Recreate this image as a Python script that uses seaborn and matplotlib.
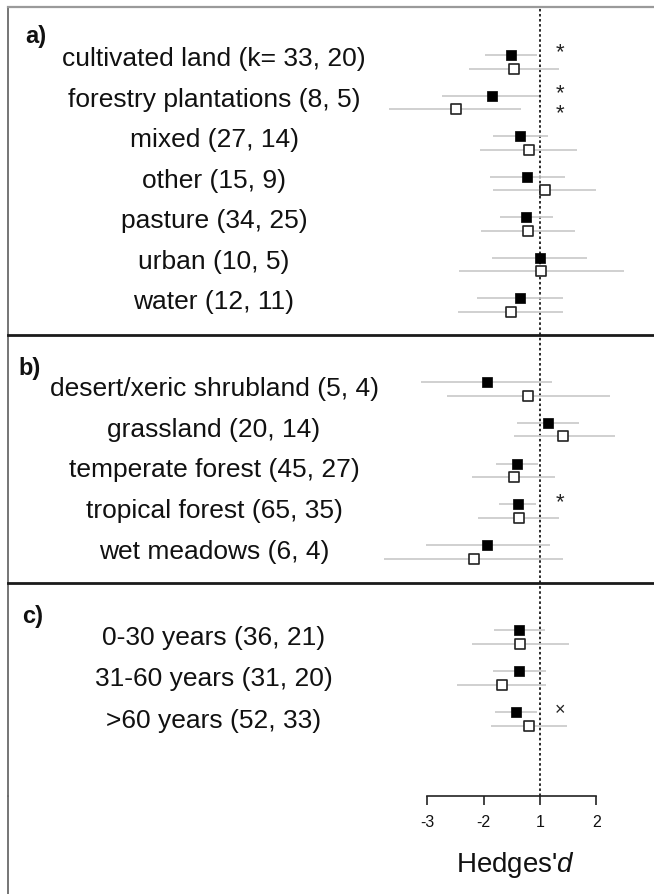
import matplotlib
matplotlib.use("Agg")
import matplotlib.pyplot as plt
from matplotlib.lines import Line2D
import seaborn as sns
import pandas as pd

# ---------------- data (effect sizes in axis units; dotted reference line at 0) ----------------
labels_a = ["cultivated land (k= 33, 20)", "forestry plantations (8, 5)", "mixed (27, 14)",
            "other (15, 9)", "pasture (34, 25)", "urban (10, 5)", "water (12, 11)"]
filled_est_a = [-0.52, -0.86, -0.35, -0.23, -0.25, 0.00, -0.36]
filled_lo_a = [-0.97, -1.74, -0.83, -0.88, -0.71, -0.85, -1.12]
filled_hi_a = [-0.06, -0.01, 0.15, 0.44, 0.23, 0.84, 0.41]
open_est_a = [-0.47, -1.50, -0.20, 0.08, -0.21, 0.02, -0.52]
open_lo_a = [-1.26, -2.68, -1.06, -0.83, -1.04, -1.43, -1.46]
open_hi_a = [0.33, -0.33, 0.65, 0.99, 0.62, 1.49, 0.40]
sig_filled_a = ["*", "*", "", "", "", "", ""]
sig_open_a = ["", "*", "", "", "", "", ""]

labels_b = ["desert/xeric shrubland (5, 4)", "grassland (20, 14)", "temperate forest (45, 27)",
            "tropical forest (65, 35)", "wet meadows (6, 4)"]
filled_est_b = [-0.95, 0.15, -0.40, -0.39, -0.94]
filled_lo_b = [-2.11, -0.41, -0.78, -0.72, -2.03]
filled_hi_b = [0.21, 0.70, -0.03, -0.07, 0.17]
open_est_b = [-0.21, 0.40, -0.47, -0.38, -1.18]
open_lo_b = [-1.66, -0.46, -1.20, -1.10, -2.77]
open_hi_b = [1.24, 1.34, 0.27, 0.33, 0.41]
sig_filled_b = ["", "", "", "*", ""]
sig_open_b = ["", "", "", "", ""]

labels_c = ["0-30 years (36, 21)", "31-60 years (31, 20)", ">60 years (52, 33)"]
filled_est_c = [-0.37, -0.37, -0.43]
filled_lo_c = [-0.81, -0.83, -0.80]
filled_hi_c = [0.08, 0.11, -0.06]
open_est_c = [-0.35, -0.67, -0.20]
open_lo_c = [-1.21, -1.47, -0.87]
open_hi_c = [0.52, 0.11, 0.48]
sig_filled_c = ["", "", "×"]
sig_open_c = ["", "", ""]

panel_letters = ["a)", "b)", "c)"]
tick_positions = [-2, -1, 0, 1]
tick_labels = ["-3", "-2", "1", "2"]
xlabel_text = "Hedges'$\\mathit{d}$"

# ---------------- style ----------------
sns.set_theme(style="white")
plt.rcParams["font.family"] = ["Liberation Sans", "DejaVu Sans"]
plt.rcParams["mathtext.fontset"] = "custom"
plt.rcParams["mathtext.it"] = "Liberation Sans:italic"
plt.rcParams["mathtext.rm"] = "Liberation Sans"

W, H = 654, 894
fig = plt.figure(figsize=(W / 100, H / 100), dpi=100)
fig.patch.set_facecolor("white")

XL = (8 - 540) / 56.3
XR = (654 - 540) / 56.3
LEFT = 8 / W

# (top px, bottom px, first row px, row spacing px, label offset)
layout = [(7, 335, 55, 40.55, 0.1), (335, 583, 382, 40.75, 0.17), (583, 796, 630, 41.15, 0.2)]

panels = [
    (labels_a, filled_est_a, filled_lo_a, filled_hi_a, open_est_a, open_lo_a, open_hi_a, sig_filled_a, sig_open_a),
    (labels_b, filled_est_b, filled_lo_b, filled_hi_b, open_est_b, open_lo_b, open_hi_b, sig_filled_b, sig_open_b),
    (labels_c, filled_est_c, filled_lo_c, filled_hi_c, open_est_c, open_lo_c, open_hi_c, sig_filled_c, sig_open_c),
]

OPEN_OFF = 0.335
axes = []
for p, ((top, bot, row0, sp, loff), data) in enumerate(zip(layout, panels)):
    labels, fe, fl, fh, oe, ol, oh, sf, so = data
    ax = fig.add_axes([LEFT, (H - bot) / H, 1 - LEFT, (bot - top) / H])
    axes.append(ax)
    ax.set_xlim(XL, XR)
    ax.set_ylim((bot - row0) / sp, -(row0 - top) / sp)
    ax.set_facecolor("white")

    n = len(labels)
    df = pd.DataFrame({
        "label": labels * 2,
        "kind": ["filled"] * n + ["open"] * n,
        "est": fe + oe,
        "lo": fl + ol,
        "hi": fh + oh,
        "sig": sf + so,
        "row": list(range(n)) + [i + OPEN_OFF for i in range(n)],
    })

    ax.axvline(0, color="#2a2a2a", lw=1.4, ls=(0, (1.3, 1.3)), zorder=1)
    ax.hlines(df["row"], df["lo"], df["hi"], color="#c8c8c8", lw=1.2, zorder=2)

    dff = df[df["kind"] == "filled"]
    dfo = df[df["kind"] == "open"]
    sns.scatterplot(data=dff, x="est", y="row", marker="s", s=62, color="black",
                    edgecolor="black", linewidth=0.5, ax=ax, zorder=3, legend=False)
    sns.scatterplot(data=dfo, x="est", y="row", marker="s", s=48, color="white",
                    edgecolor="#222222", linewidth=1.2, ax=ax, zorder=3, legend=False)

    for _, r in df.iterrows():
        if r["sig"]:
            fs = 16 if r["sig"] == "*" else 13
            dy = -0.05 if r["kind"] == "filled" else 0.1
            ax.text(0.36, r["row"] + dy, r["sig"], ha="center", va="center",
                    fontsize=fs, color="#222222", zorder=4)

    for i, lab in enumerate(labels):
        ax.text(-5.79, i + loff, lab, ha="center", va="center", fontsize=19, color="#111111")

    ax.set_xlabel("")
    ax.set_ylabel("")
    ax.set_yticks([])
    for s in ["right", "bottom"]:
        ax.spines[s].set_visible(False)
    ax.spines["left"].set_color("#6a6a6a")
    ax.spines["left"].set_linewidth(1.3)
    if p == 0:
        ax.spines["top"].set_color("#9a9a9a")
        ax.spines["top"].set_linewidth(1.6)
    else:
        ax.spines["top"].set_color("#1a1a1a")
        ax.spines["top"].set_linewidth(2.0)
    if p < 2:
        ax.set_xticks([])

# bottom axis on panel c
axc = axes[2]
axc.spines["bottom"].set_visible(True)
axc.spines["bottom"].set_bounds(tick_positions[0], tick_positions[-1])
axc.spines["bottom"].set_color("#222222")
axc.spines["bottom"].set_linewidth(1.2)
axc.set_xticks(tick_positions)
axc.set_xticklabels(tick_labels, fontsize=11.5)
axc.tick_params(axis="x", direction="out", length=6.5, width=1.2, color="#222222",
                pad=7, bottom=True, labelcolor="#111111")

# left border continues to bottom of figure
fig.add_artist(Line2D([LEFT, LEFT], [0, (H - 796) / H], transform=fig.transFigure,
                      color="#6a6a6a", lw=1.3))

# panel letters
for letter, (px, py) in zip(panel_letters, [(25, 36), (18, 369), (22, 616)]):
    fig.text(px / W, (H - py) / H, letter, fontsize=17, fontweight="bold",
             ha="left", va="center", color="#111111")

fig.text(516 / W, (H - 865) / H, xlabel_text, fontsize=20, ha="center", va="center", color="#111111")

fig.savefig("out.png", dpi=100, facecolor="white")
